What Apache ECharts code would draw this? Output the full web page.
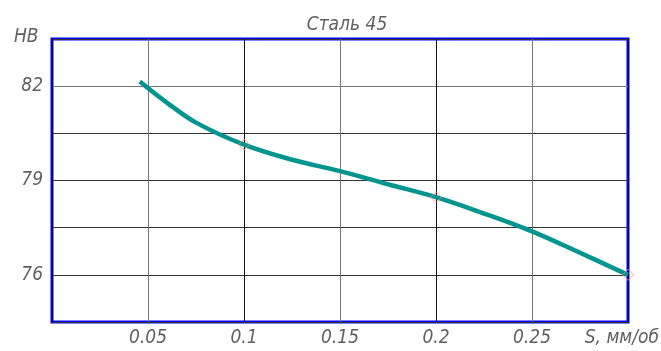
<!DOCTYPE html>
<html>
<head>
<meta charset="utf-8">
<script src="https://cdn.jsdelivr.net/npm/echarts@6/dist/echarts.min.js"></script>
<style>
html,body{margin:0;padding:0;background:#fff;}
#c{width:661px;height:351px;}
</style>
</head>
<body>
<div id="c"></div>
<script>
// Data
var feedS = [0.0457, 0.06, 0.075, 0.1, 0.125, 0.15, 0.175, 0.2, 0.225, 0.25, 0.275, 0.3];
var hardnessHB = [82.15, 81.47, 80.84, 80.14, 79.66, 79.3, 78.88, 78.47, 77.95, 77.38, 76.7, 76.0];
var markerS = [0.1, 0.2, 0.3];
var xTickLabels = [0.05, 0.1, 0.15, 0.2, 0.25];
var yTickLabels = [76, 79, 82];
var titleText = 'Сталь 45';
var yName = 'HB';
var xName = 'S, мм/об';

var FONT = '"DejaVu Sans Condensed", "Liberation Sans Narrow", sans-serif';
var TXT = '#606060';

function has(list, v) {
  for (var i = 0; i < list.length; i++) if (Math.abs(list[i] - v) < 1e-9) return true;
  return false;
}
var lineData = feedS.map(function (s, i) { return [s, hardnessHB[i]]; });
var markerData = markerS.map(function (s) {
  var idx = feedS.findIndex(function (v) { return Math.abs(v - s) < 1e-9; });
  return [s, hardnessHB[idx]];
});

var chart = echarts.init(document.getElementById('c'));
chart.setOption({
  animation: false,
  title: {
    text: titleText, left: 342, top: 11, textAlign: 'center',
    textStyle: { fontFamily: FONT, fontStyle: 'italic', fontWeight: 'normal', fontSize: 19, color: TXT }
  },
  grid: {
    left: 52, right: 33, top: 39, bottom: 29,
    show: true, borderColor: '#0000ff', borderWidth: 3, backgroundColor: 'transparent'
  },
  xAxis: {
    type: 'value', min: 0, max: 0.3, interval: 0.05,
    axisLine: { show: false }, axisTick: { show: false },
    splitLine: { show: true, lineStyle: { color: ['#111', '#777'], width: 1 } },
    axisLabel: {
      margin: 7, fontFamily: FONT, fontStyle: 'italic', fontSize: 19, color: TXT,
      formatter: function (v) { return has(xTickLabels, v) ? String(+v.toFixed(2)) : ''; }
    }
  },
  yAxis: {
    type: 'value', min: 74.5, max: 83.5, interval: 1.5,
    axisLine: { show: false }, axisTick: { show: false },
    splitLine: { show: true, lineStyle: { color: ['#333', '#333', '#333', '#333', '#333', '#777', '#333'], width: 1 } },
    axisLabel: {
      margin: 9, fontFamily: FONT, fontStyle: 'italic', fontSize: 19, color: TXT,
      formatter: function (v) { return has(yTickLabels, v) ? String(Math.round(v)) : ''; }
    }
  },
  graphic: [
    { type: 'text', left: 14, top: 28, style: { text: yName, font: 'italic 19px ' + FONT, fill: TXT } },
    { type: 'text', right: 2, top: 329, style: { text: xName, font: 'italic 19px ' + FONT, fill: TXT } }
  ],
  series: [
    {
      type: 'line', data: lineData, smooth: 0.35, showSymbol: false,
      lineStyle: { color: '#00968f', width: 4.5 }, z: 3
    },
    {
      type: 'scatter', data: markerData, symbol: 'diamond', symbolSize: 11,
      itemStyle: { color: 'rgba(0,0,0,0)', borderColor: '#ff8c8c', borderWidth: 1 }, z: 4
    }
  ]
});
</script>
</body>
</html>
